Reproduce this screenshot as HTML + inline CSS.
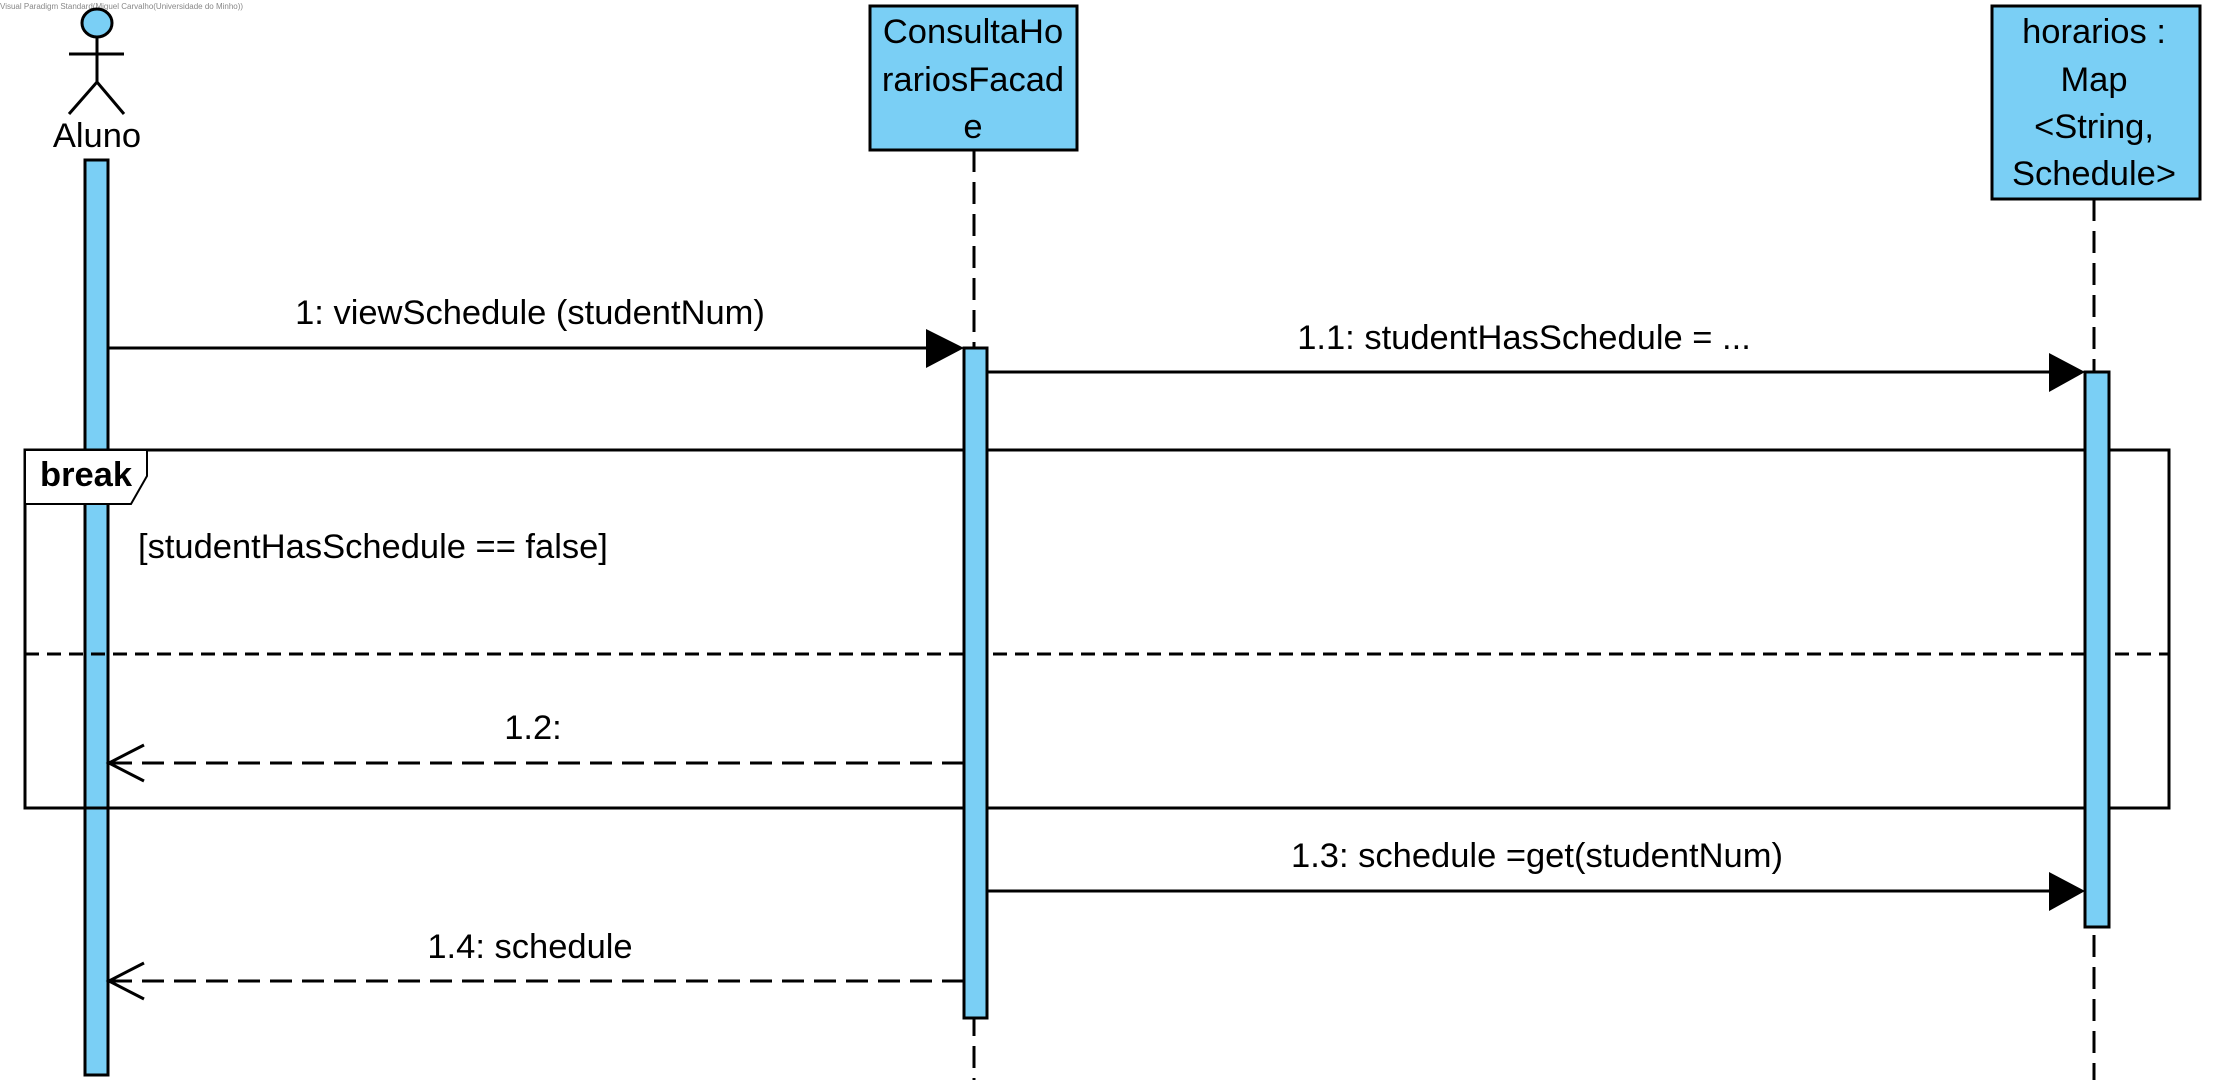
<!DOCTYPE html>
<html><head><meta charset="utf-8"><style>
html,body{margin:0;padding:0;background:#fff;}
svg{display:block;}
text{font-family:"Liberation Sans",sans-serif;font-size:34.5px;fill:#000;}
</style></head><body>
<svg width="2214" height="1089" viewBox="0 0 2214 1089" xmlns="http://www.w3.org/2000/svg">
<text x="0" y="9" style="font-size:8px;fill:#888">Visual Paradigm Standard(Miguel Carvalho(Universidade do Minho))</text>
<!-- actor -->
<ellipse cx="97" cy="23" rx="15" ry="14" fill="#7ACFF5" stroke="#000" stroke-width="3"/>
<line x1="97" y1="37" x2="97" y2="82" stroke="#000" stroke-width="3"/>
<line x1="69" y1="54" x2="124" y2="54" stroke="#000" stroke-width="3"/>
<polyline points="69,114 97,82 124,114" fill="none" stroke="#000" stroke-width="3"/>
<text x="97" y="147" text-anchor="middle">Aluno</text>
<rect x="85" y="160" width="23" height="915" fill="#7ACFF5" stroke="#000" stroke-width="3"/>
<!-- Consulta -->
<rect x="870" y="6" width="207" height="144" fill="#7ACFF5" stroke="#000" stroke-width="3"/>
<text x="973" y="43" text-anchor="middle">ConsultaHo</text>
<text x="973" y="91" text-anchor="middle">rariosFacad</text>
<text x="973" y="138" text-anchor="middle">e</text>
<line x1="974" y1="150" x2="974" y2="1080" stroke="#000" stroke-width="3" stroke-dasharray="22,10"/>
<!-- horarios -->
<rect x="1992" y="6" width="208" height="193" fill="#7ACFF5" stroke="#000" stroke-width="3"/>
<text x="2094" y="43" text-anchor="middle">horarios :</text>
<text x="2094" y="91" text-anchor="middle">Map</text>
<text x="2094" y="138" text-anchor="middle">&lt;String,</text>
<text x="2094" y="185" text-anchor="middle">Schedule&gt;</text>
<line x1="2094" y1="199" x2="2094" y2="1080" stroke="#000" stroke-width="3" stroke-dasharray="22,10"/>
<!-- frame -->
<rect x="25" y="450" width="2144" height="358" fill="none" stroke="#000" stroke-width="3"/>
<polygon points="25,450 147,450 147,476 131,504 25,504" fill="#fff" stroke="#000" stroke-width="2"/>
<text x="40" y="486" style="font-weight:bold">break</text>
<text x="138" y="558">[studentHasSchedule == false]</text>
<line x1="25" y1="654" x2="2169" y2="654" stroke="#000" stroke-width="3" stroke-dasharray="14,8"/>
<!-- activations -->
<rect x="964" y="348" width="23" height="670" fill="#7ACFF5" stroke="#000" stroke-width="3"/>
<rect x="2085" y="372" width="24" height="555" fill="#7ACFF5" stroke="#000" stroke-width="3"/>
<!-- msg 1 -->
<line x1="108" y1="348" x2="930" y2="348" stroke="#000" stroke-width="3"/>
<polygon points="926,329 964,348 926,368" fill="#000"/>
<text x="530" y="324" text-anchor="middle">1: viewSchedule (studentNum)</text>
<!-- msg 1.1 -->
<line x1="987" y1="372" x2="2052" y2="372" stroke="#000" stroke-width="3"/>
<polygon points="2049,353 2085,372 2049,392" fill="#000"/>
<text x="1524" y="349" text-anchor="middle">1.1: studentHasSchedule = ...</text>
<!-- msg 1.2 -->
<line x1="964" y1="763" x2="110" y2="763" stroke="#000" stroke-width="3" stroke-dasharray="22,10"/>
<polyline points="144,745 109,763 144,781" fill="none" stroke="#000" stroke-width="3"/>
<text x="533" y="739" text-anchor="middle">1.2:</text>
<!-- msg 1.3 -->
<line x1="987" y1="891" x2="2052" y2="891" stroke="#000" stroke-width="3"/>
<polygon points="2049,872 2085,891 2049,911" fill="#000"/>
<text x="1537" y="867" text-anchor="middle">1.3: schedule =get(studentNum)</text>
<!-- msg 1.4 -->
<line x1="964" y1="981" x2="110" y2="981" stroke="#000" stroke-width="3" stroke-dasharray="22,10"/>
<polyline points="144,963 109,981 144,999" fill="none" stroke="#000" stroke-width="3"/>
<text x="530" y="958" text-anchor="middle">1.4: schedule</text>
</svg>
</body></html>
